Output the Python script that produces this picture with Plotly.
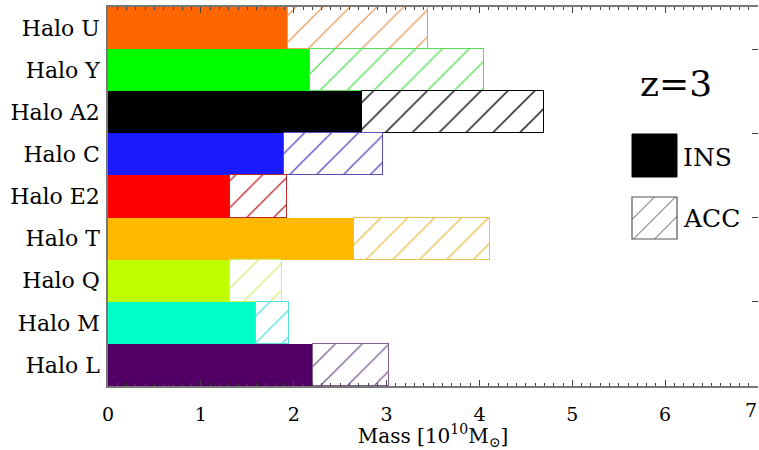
import plotly.graph_objects as go

halos = ["Halo U", "Halo Y", "Halo A2", "Halo C", "Halo E2", "Halo T", "Halo Q", "Halo M", "Halo L"]
ins_mass = [1.94, 2.17, 2.74, 1.89, 1.31, 2.65, 1.31, 1.59, 2.21]
acc_mass = [1.51, 1.88, 1.96, 1.07, 0.62, 1.46, 0.56, 0.36, 0.82]
colors = ["#FF6600", "#00FF00", "#000000", "#1A1AFF", "#FF0000", "#FFB900", "#BFFF00", "#00FFC8", "#520066"]
acc_line = ["#E8A060", "#55E055", "#000000", "#5A4AC0", "#C02828", "#E8C050", "#D0F070", "#55E0E0", "#806090"]
x_ticks = [0, 1, 2, 3, 4, 5, 6, 7]

n = len(halos)
ypos = [n - 1 - i for i in range(n)]

FONT = "DejaVu Serif"
fig = go.Figure()
fig.add_trace(go.Bar(
    y=ypos, x=ins_mass, orientation="h", name="INS",
    marker=dict(color=colors, line=dict(width=0)),
    showlegend=False,
))
fig.add_trace(go.Bar(
    y=ypos, x=acc_mass, orientation="h", name="ACC",
    marker=dict(color="white", line=dict(color=acc_line, width=1.2),
                pattern=dict(shape="/", fgcolor=acc_line, bgcolor="white",
                             size=19, solidity=0.07, fillmode="replace")),
    showlegend=False,
))

fig.update_layout(
    barmode="stack", bargap=0,
    width=759, height=450,
    margin=dict(l=108, r=1, t=7, b=64),
    plot_bgcolor="white", paper_bgcolor="white",
    font=dict(family=FONT, color="black"),
    xaxis=dict(range=[0, 7], tickvals=x_ticks[:-1],
               ticks="inside", ticklen=6, tickcolor="#444", mirror="ticks",
               showline=True, linecolor="#777", linewidth=1.5,
               showgrid=False, zeroline=False, ticklabelstandoff=10,
               minor=dict(dtick=0.1, ticks="inside", ticklen=3, tickcolor="#444", showgrid=False),
               tickfont=dict(size=19, family=FONT),
               title=dict(text="Mass [10<sup>10</sup>M<sub>⊙</sub>]", font=dict(size=20, family=FONT), standoff=8)),
    yaxis=dict(range=[-0.5, n - 0.5], tickvals=ypos, ticktext=halos,
               ticks="", showline=True, linecolor="#777", linewidth=1.5,
               showgrid=False, zeroline=False, ticklabelstandoff=2,
               tickfont=dict(size=22, family=FONT)),
    yaxis2=dict(range=[-0.5, n - 0.5], overlaying="y", side="right",
                tickvals=[7.5, 5.5, 3.5, 1.5], ticks="inside", ticklen=6, tickcolor="#444",
                showticklabels=False, showgrid=False, zeroline=False, showline=False),
)
fig.add_trace(go.Scatter(x=[None], y=[None], yaxis="y2", showlegend=False))

# last x tick label, kept just inside the page edge
fig.add_annotation(x=x_ticks[-1], y=0, xref="x", yref="paper", yshift=-24, xshift=1,
                   text=str(x_ticks[-1]), showarrow=False, font=dict(size=19, family=FONT),
                   xanchor="right", yanchor="middle")

def px2paper(px, py):
    return (px - 108) / 650.0, (386 - py) / 379.0

x0, y0 = px2paper(632, 177)
x1, y1 = px2paper(677, 134)
fig.add_shape(type="rect", xref="paper", yref="paper", x0=x0, x1=x1, y0=y0, y1=y1,
              fillcolor="black", line=dict(color="black", width=1))

L, R, T, B = 632, 677, 197, 239
xa, ya = px2paper(L, B)
xb, yb = px2paper(R, T)
fig.add_shape(type="rect", xref="paper", yref="paper", x0=xa, x1=xb, y0=ya, y1=yb,
              fillcolor="white", line=dict(color="#555", width=1.2))

def clip(p, q):
    t0, t1 = 0.0, 1.0
    dx, dy = q[0] - p[0], q[1] - p[1]
    for pp, qq in [(-dx, p[0] - L), (dx, R - p[0]), (-dy, p[1] - T), (dy, B - p[1])]:
        if pp == 0:
            if qq < 0:
                return None
        else:
            r = qq / pp
            if pp < 0:
                t0 = max(t0, r)
            else:
                t1 = min(t1, r)
    if t0 > t1:
        return None
    return (p[0] + t0 * dx, p[1] + t0 * dy), (p[0] + t1 * dx, p[1] + t1 * dy)

for c in [-21, 0, 21]:
    cx, cy = L + (R - L) / 2 + c, (T + B) / 2
    res = clip((cx - 100, cy + 100), (cx + 100, cy - 100))
    if res:
        (sx, sy), (ex, ey) = res
        X0, Y0 = px2paper(sx, sy)
        X1, Y1 = px2paper(ex, ey)
        fig.add_shape(type="line", xref="paper", yref="paper", x0=X0, y0=Y0, x1=X1, y1=Y1,
                      line=dict(color="#555", width=1))

zx, zy = px2paper(676, 83)
fig.add_annotation(x=zx, y=zy, xref="paper", yref="paper", text="z=3", showarrow=False,
                   font=dict(size=36, family=FONT), xanchor="center", yanchor="middle")
ix, iy = px2paper(681, 157)
fig.add_annotation(x=ix, y=iy, xref="paper", yref="paper", text="INS", showarrow=False,
                   font=dict(size=25, family=FONT), xanchor="left", yanchor="middle")
ax2, ay2 = px2paper(681, 218)
fig.add_annotation(x=ax2, y=ay2, xref="paper", yref="paper", text="ACC", showarrow=False,
                   font=dict(size=25, family=FONT), xanchor="left", yanchor="middle")

fig.write_html("out.html")
